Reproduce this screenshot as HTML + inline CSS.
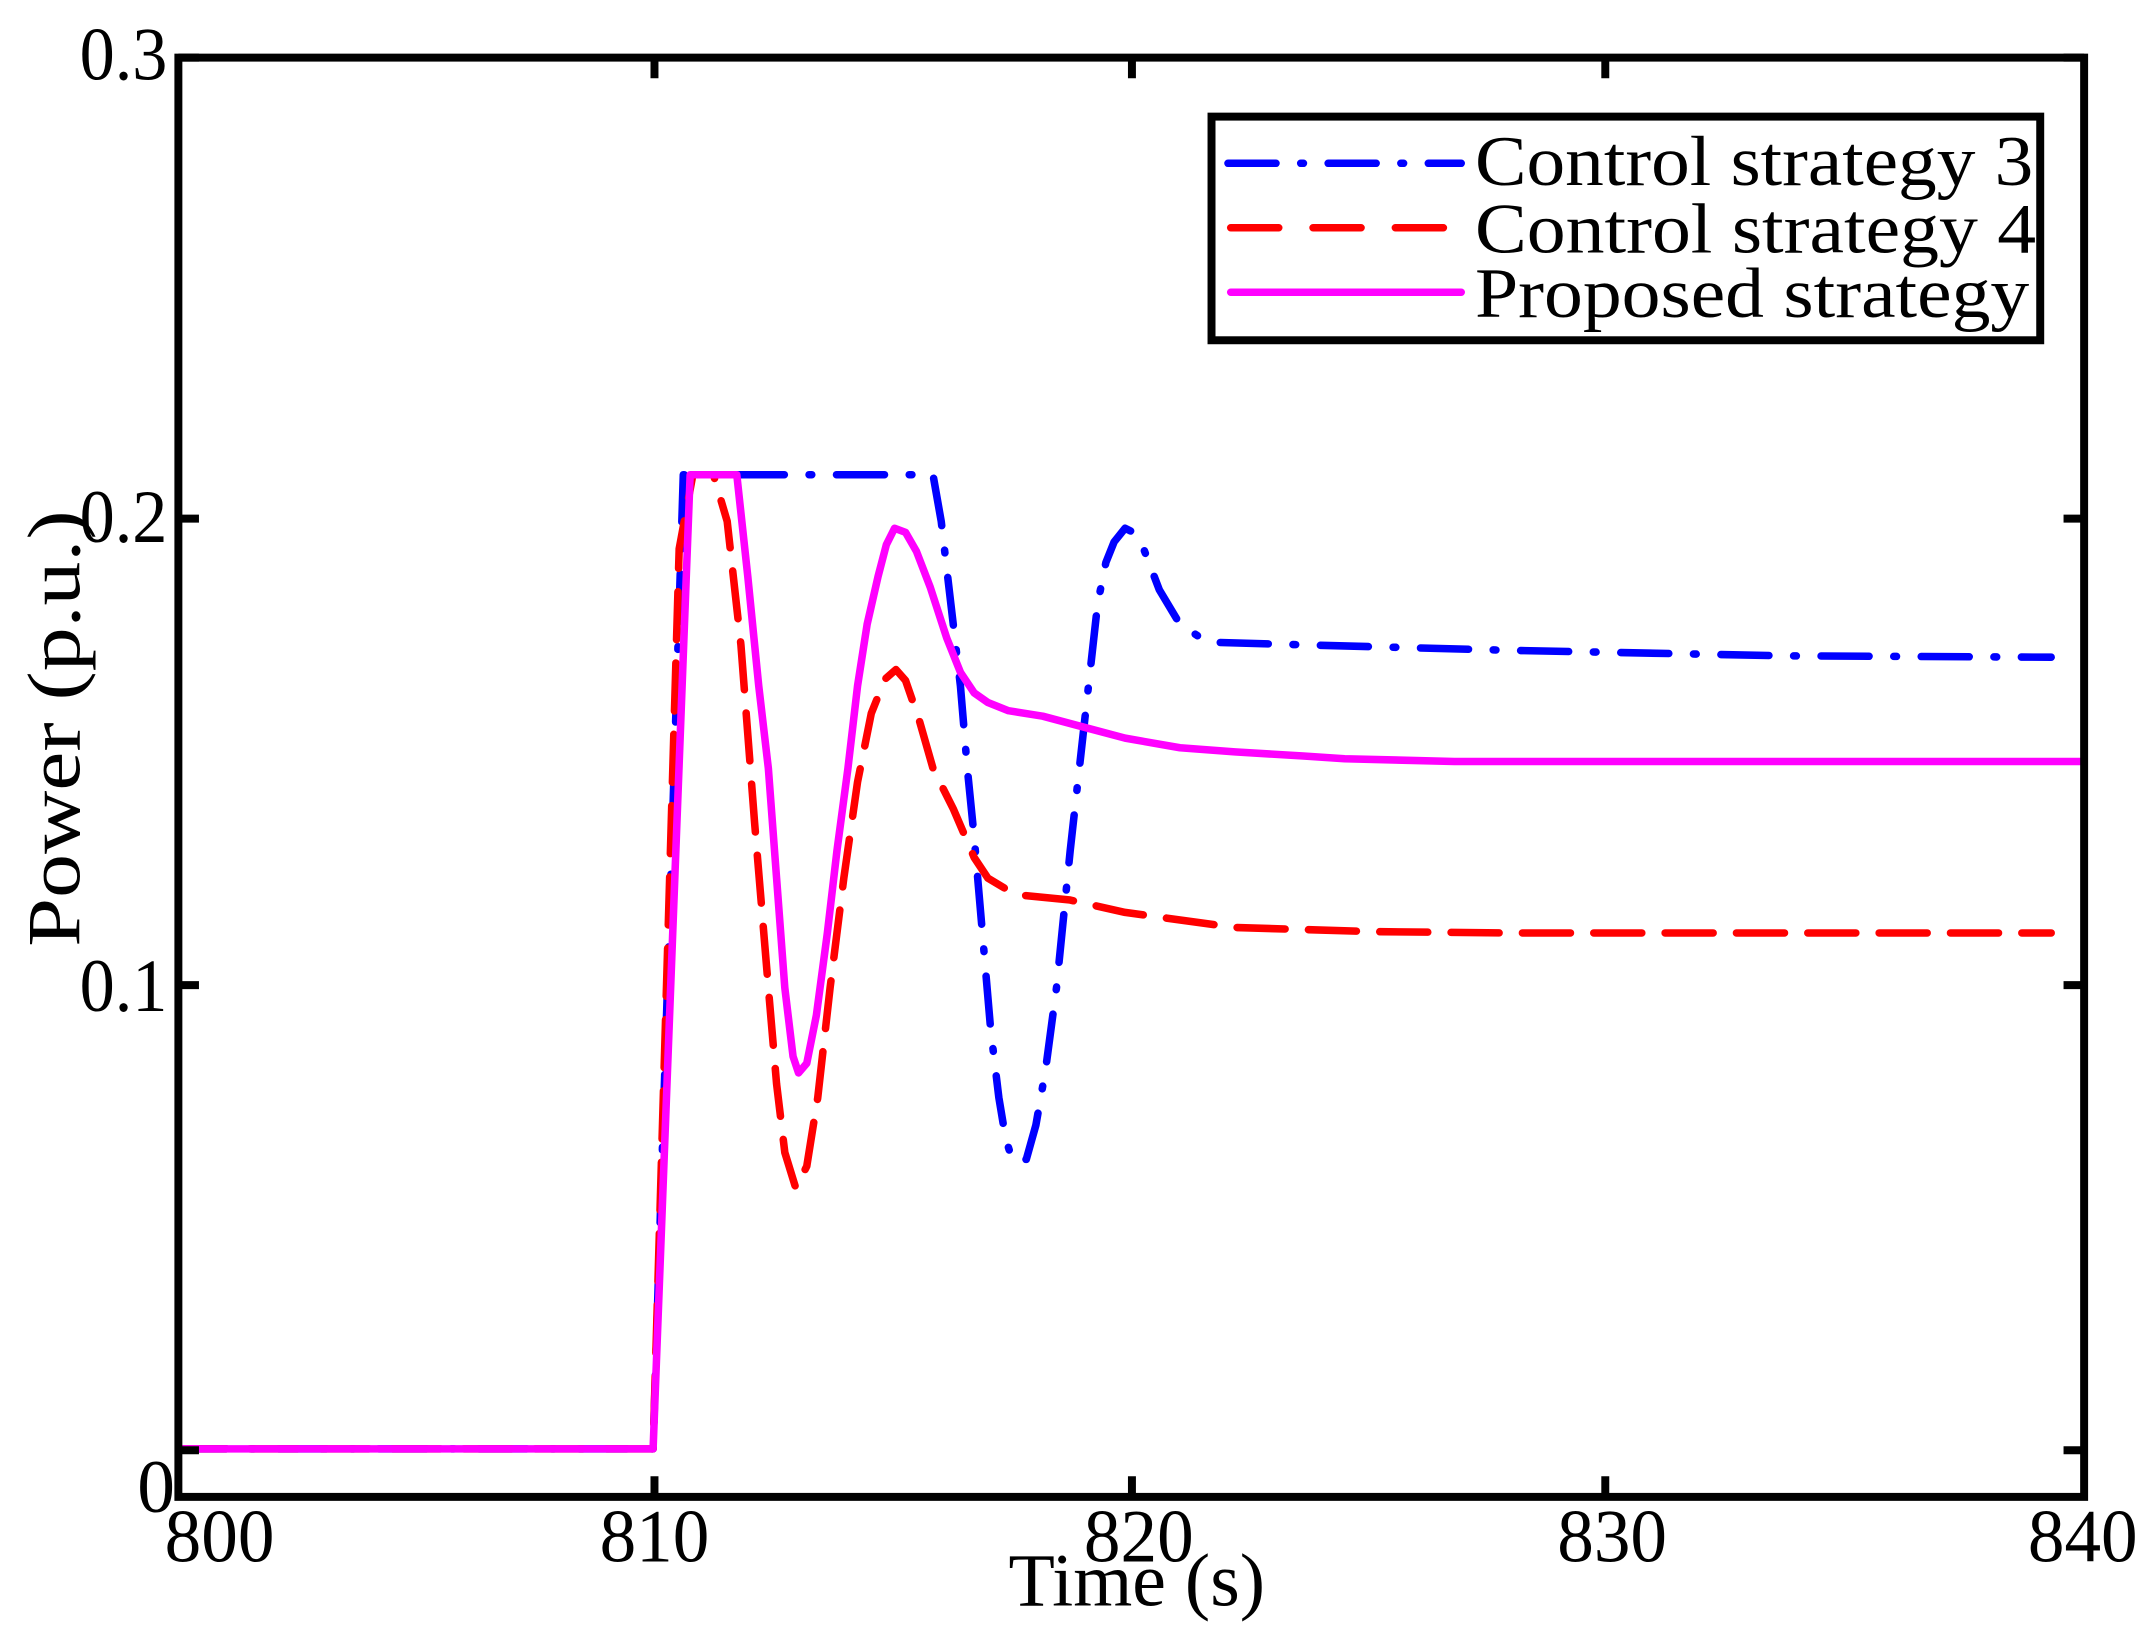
<!DOCTYPE html>
<html><head><meta charset="utf-8"><style>html,body{margin:0;padding:0;background:#fff}svg{display:block}</style></head>
<body>
<svg width="2150" height="1643" viewBox="0 0 1567 1197.5" xmlns="http://www.w3.org/2000/svg" font-family="'Liberation Serif', serif">
<rect width="1567" height="1197.5" fill="#fff"/>
<g fill="none" stroke-linejoin="round" stroke-linecap="round">
<polyline stroke="#0000ff" stroke-width="5.5" stroke-dasharray="35 18 2 18" points="130,1056 476,1056 498,346 510,346 680,346 686,380 693,440 700,500 705,560 710,610 716,680 722,750 728,800 733,830 738,846 748,845 755,820 762,780 770,720 780,620 790,530 800,440 806,410 812,395 820,385 826,388 832,396 845,430 860,455 880,468 950,470 1100,474 1300,478 1495,479"/>
<polyline stroke="#ff0000" stroke-width="5.5" stroke-dasharray="35 17" points="130,1056 476,1056 495,400 505,346 520,346 530,380 540,470 550,600 560,720 566,790 572,840 580,866 588,850 596,800 605,720 615,640 625,570 635,520 645,495 653,488 660,496 670,525 680,560 695,590 710,625 720,640 740,652 780,656 820,665 900,676 1000,679 1100,680 1495,680"/>
<polyline stroke="#ff00ff" stroke-width="5.5" points="130,1056 476,1056 503,346 537,346 545,420 553,500 560,560 566,640 572,720 578,770 582,782 588,775 595,740 603,680 610,620 618,560 625,500 632,455 640,420 646,397 652,385 660,388 668,402 678,428 690,465 700,490 710,505 720,512 735,518 760,522 790,530 820,538 860,545 900,548 950,551 980,553 1060,555 1519,555"/>
</g>
<g stroke="#000" stroke-width="5.8" fill="none">
<rect x="130" y="42" width="1389" height="1049"/>
<path d="M130,42h15M130,378h15M130,718h15M130,1057h15M1519,42h-15M1519,378h-15M1519,718h-15M1519,1057h-15M477,1091v-15M825,1091v-15M1170,1091v-15M477,42v15M825,42v15M1170,42v15"/>
<rect x="883" y="85" width="604" height="163" fill="#fff"/>
</g>
<g stroke-width="5.5" stroke-linecap="round">
<line x1="895" y1="119" x2="1065" y2="119" stroke="#0000ff" stroke-dasharray="35 18 2 18"/>
<line x1="897" y1="166" x2="1065" y2="166" stroke="#ff0000" stroke-dasharray="35 25"/>
<line x1="897" y1="213" x2="1065" y2="213" stroke="#ff00ff"/>
</g>
<g font-size="52" fill="#000">
<text x="1075" y="135" textLength="407" lengthAdjust="spacingAndGlyphs">Control strategy 3</text>
<text x="1075" y="184" textLength="409" lengthAdjust="spacingAndGlyphs">Control strategy 4</text>
<text x="1075" y="231" textLength="404" lengthAdjust="spacingAndGlyphs">Proposed strategy</text>
</g>
<g font-size="55" fill="#000">
<text x="58" y="58" textLength="64" lengthAdjust="spacingAndGlyphs">0.3</text>
<text x="58" y="395" textLength="64" lengthAdjust="spacingAndGlyphs">0.2</text>
<text x="58" y="737" textLength="64" lengthAdjust="spacingAndGlyphs">0.1</text>
<text x="100" y="1102">0</text>
<text x="120" y="1138" textLength="80" lengthAdjust="spacingAndGlyphs">800</text>
<text x="437" y="1138" textLength="80" lengthAdjust="spacingAndGlyphs">810</text>
<text x="790" y="1138" textLength="80" lengthAdjust="spacingAndGlyphs">820</text>
<text x="1135" y="1138" textLength="80" lengthAdjust="spacingAndGlyphs">830</text>
<text x="1478" y="1138" textLength="80" lengthAdjust="spacingAndGlyphs">840</text>
<text x="735" y="1170" textLength="187" lengthAdjust="spacingAndGlyphs">Time (s)</text>
<text transform="translate(58,690) rotate(-90)" textLength="318" lengthAdjust="spacingAndGlyphs">Power (p.u.)</text>
</g>
</svg>
</body></html>
